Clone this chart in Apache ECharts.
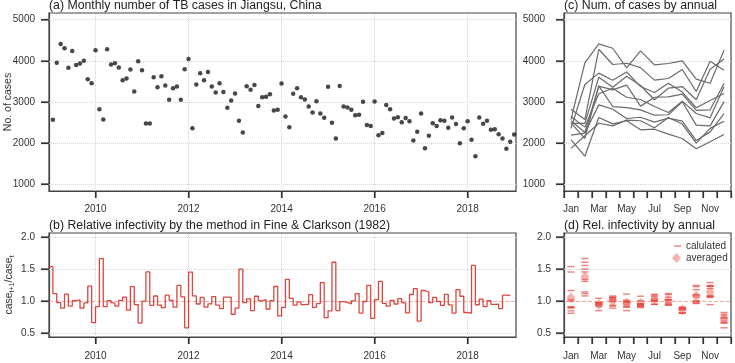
<!DOCTYPE html>
<html>
<head>
<meta charset="utf-8">
<script src="https://cdn.jsdelivr.net/npm/echarts@6/dist/echarts.min.js"></script>
<style>
  html, body { margin: 0; padding: 0; background: #fff; }
  #chart { width: 735px; height: 363px; }
</style>
</head>
<body>
<div id="chart"></div>
<script>
const startYear = 2009;
const months = ["Jan", "Feb", "Mar", "Apr", "May", "Jun", "Jul", "Aug", "Sep", "Oct", "Nov", "Dec"];

// monthly TB cases, Jan 2009 .. Dec 2018
const cases = [
  2570, 3950, 4410, 4305, 3830, 4240, 3900, 3935, 4000, 3555, 3455, 4255,
  2825, 2575, 4280, 3910, 3940, 3835, 3530, 3570, 3790, 3255, 3990, 3770,
  2480, 2480, 3600, 3360, 3625, 3400, 3055, 3335, 3375, 3055, 3795, 4045,
  2360, 3425, 3700, 3530, 3730, 3375, 3230, 3455, 3240, 2860, 3035, 3205,
  2545, 2260, 3385, 3295, 3410, 2900, 3115, 3125, 3190, 2795, 2810, 3450,
  2650, 2390, 3200, 3335, 3115, 3060, 2890, 2745, 3020, 2720, 2615, 3370,
  2495, 2115, 3390, 2890, 2865, 2810, 2680, 2690, 3005, 2440, 2420, 3010,
  2195, 2245, 2930, 2825, 2600, 2630, 2510, 2610, 2535, 2065, 2275, 2720,
  1875, 2180, 2485, 2420, 2560, 2545, 2375, 2625, 2465, 2000, 2360, 2535,
  2085, 1685, 2625, 2470, 2545, 2325, 2340, 2220, 2115, 1865, 2035, 2210,
];

// relative infectivity case[t+1] / case[t]
const ratio = [
  1.537, 1.116, 0.976, 0.889, 1.108, 0.920, 1.008, 1.017, 0.889, 0.973, 1.231, 0.664,
  0.912, 1.662, 0.913, 1.008, 0.973, 0.920, 1.012, 1.061, 0.859, 1.226, 0.945, 0.657,
  1.000, 1.453, 0.933, 1.079, 0.938, 0.898, 1.092, 1.012, 0.904, 1.243, 1.066, 0.583,
  1.452, 1.080, 0.954, 1.057, 0.905, 0.957, 1.070, 0.937, 0.883, 1.062, 1.056, 0.794,
  0.889, 1.497, 0.974, 1.034, 0.851, 1.075, 1.003, 1.021, 0.876, 1.006, 1.227, 0.768,
  0.902, 1.338, 1.043, 0.935, 0.982, 0.944, 0.950, 1.100, 0.901, 0.961, 1.287, 0.741,
  0.848, 1.604, 0.852, 0.992, 0.980, 0.954, 1.003, 1.117, 0.812, 0.993, 1.244, 0.729,
  1.022, 1.306, 0.964, 0.920, 1.012, 0.954, 1.039, 0.972, 0.815, 1.102, 1.195, 0.688,
  1.164, 1.141, 0.974, 1.057, 0.994, 0.933, 1.105, 0.939, 0.813, 1.178, 1.075, 0.822,
  0.810, 1.555, 0.942, 1.030, 0.914, 1.007, 0.948, 0.953, 0.882, 1.091, 1.087,
];

const averaged = [1.05, 1.38, 0.95, 1.00, 0.97, 0.96, 1.02, 1.01, 0.86, 1.08, 1.14, 0.72];

const yearTicks = [2010, 2012, 2014, 2016, 2018];
const caseTicks = [1000, 2000, 3000, 4000, 5000];
const ratioTicks = [0.5, 1.0, 1.5, 2.0];

const font = "'Liberation Sans', Arial, sans-serif";
const ink = "#333";
const red = "rgba(214, 39, 30, 0.85)";
const label = { color: ink, fontSize: 10, fontFamily: font };

// panel boxes: left, top, width, height
const boxes = [
  [49, 13, 467, 178],
  [49, 233, 467, 104],
  [564, 13, 167, 178],
  [564, 233, 167, 104],
];

const panelGrid = ([left, top, width, height]) => ({
  left, top, width, height, show: true, outerBoundsMode: "none", containLabel: false,
  borderColor: "#444", borderWidth: 1.2, backgroundColor: "transparent",
});

const axisLine = () => ({ show: true, onZero: false, lineStyle: { color: "#444", width: 1.2 } });
const axisTick = (length, customValues) => ({
  show: true, length, customValues, lineStyle: { color: ink, width: 1.2 },
});

const panelTitle = (text, left, top) => ({
  text, left, top, padding: 0,
  textStyle: { fontSize: 12.3, fontWeight: "normal", color: "#222", fontFamily: font },
});

const yearAxis = (gridIndex, margin) => ({
  type: "value", gridIndex, min: 2009, max: 2019.04,
  axisLine: axisLine(),
  axisTick: axisTick(7, yearTicks),
  axisLabel: { ...label, customValues: yearTicks, margin, formatter: (v) => String(v) },
  splitLine: { show: false },
});

const monthAxis = (gridIndex, margin) => ({
  type: "category", gridIndex, data: months, boundaryGap: true,
  axisLine: axisLine(),
  axisTick: { show: true, length: 7, interval: 0, lineStyle: { color: ink, width: 1.2 } },
  axisLabel: { ...label, interval: 1, margin },
  splitLine: { show: false },
});

const valueAxis = (gridIndex, min, max, tickValues, margin, digits, extra) => ({
  type: "value", gridIndex, min, max,
  axisLine: axisLine(),
  axisTick: axisTick(8, tickValues),
  axisLabel: { ...label, customValues: tickValues, margin, formatter: (v) => v.toFixed(digits) },
  splitLine: { show: false },
  nameMoveOverlap: false,
  ...extra,
});

// faint dotted grid lines at the tick positions, kept under the data
const gridLines = (xAxisIndex, yAxisIndex, xs, ys) => ({
  type: "line", xAxisIndex, yAxisIndex, data: [], z: 1, silent: true,
  markLine: {
    z: 1, silent: true, symbol: "none", label: { show: false },
    lineStyle: { type: "dotted", color: "#d6d6d6", width: 1 },
    data: [...xs.map((v) => ({ xAxis: v })), ...ys.map((v) => ({ yAxis: v }))],
  },
});

const oneLine = (xAxisIndex, yAxisIndex) => ({
  type: "line", xAxisIndex, yAxisIndex, data: [], z: 1, silent: true,
  markLine: {
    z: 1, silent: true, symbol: "none", label: { show: false },
    lineStyle: { type: "dashed", color: "rgba(240, 150, 140, 0.8)", width: 1 },
    data: [{ yAxis: 1 }],
  },
});

const chart = echarts.init(document.getElementById("chart"));

const yearLines = [];
for (let y = 0; y < cases.length / 12; y++) {
  yearLines.push({
    type: "line", xAxisIndex: 2, yAxisIndex: 2, z: 3,
    data: cases.slice(y * 12, y * 12 + 12),
    symbol: "none", silent: true,
    lineStyle: { color: "#6a6a6a", width: 1.2 },
  });
}

const stepData = ratio.map((v, i) => [startYear + i / 12, v]);
stepData.push([startYear + ratio.length / 12, ratio[ratio.length - 1]]);

chart.setOption({
  animation: false,
  textStyle: { fontFamily: font },
  title: [
    panelTitle("(a) Monthly number of TB cases in Jiangsu, China", 49, 0),
    panelTitle("(b) Relative infectivity by the method in Fine & Clarkson (1982)", 49, 220),
    panelTitle("(c) Num. of cases by annual", 564, 0),
    panelTitle("(d) Rel. infectivity by annual", 564, 220),
  ],
  legend: [
    {
      data: ["calulated"], left: 674, top: 241, padding: 0, icon: "rect",
      itemWidth: 7, itemHeight: 1.4, selectedMode: false,
      textStyle: { ...label },
    },
    {
      data: ["averaged"], left: 672, top: 253, padding: 0, icon: "diamond",
      itemWidth: 9, itemHeight: 10, selectedMode: false,
      textStyle: { ...label },
    },
  ],
  grid: boxes.map(panelGrid),
  xAxis: [
    yearAxis(0, 13),
    yearAxis(1, 14),
    monthAxis(2, 13),
    monthAxis(3, 14),
  ],
  yAxis: [
    valueAxis(0, 840, 5160, caseTicks, 14, 0, {
      name: "No. of cases", nameLocation: "middle", nameRotate: 90, nameGap: 35,
      nameTextStyle: { color: ink, fontSize: 10.5, fontFamily: font },
    }),
    valueAxis(1, 0.44, 2.06, ratioTicks, 14, 1, {
      name: "{n|case}{s|t+1}{n|/case}{s|t}", nameLocation: "middle", nameRotate: 90, nameGap: 33,
      nameTextStyle: {
        color: ink, fontFamily: font,
        rich: {
          n: { fontSize: 10.5, color: ink, lineHeight: 14, fontFamily: font },
          s: { fontSize: 7, color: ink, lineHeight: 14, verticalAlign: "bottom", fontFamily: font },
        },
      },
    }),
    valueAxis(2, 840, 5160, caseTicks, 19, 0),
    valueAxis(3, 0.44, 2.06, ratioTicks, 13, 1),
  ],
  series: [
    gridLines(0, 0, yearTicks, caseTicks),
    gridLines(1, 1, yearTicks, [0.5, 1.5, 2.0]),
    gridLines(2, 2, [], caseTicks),
    gridLines(3, 3, [], [0.5, 1.5, 2.0]),
    oneLine(1, 1),
    oneLine(3, 3),
    {
      type: "scatter", xAxisIndex: 0, yAxisIndex: 0, z: 3,
      data: cases.map((v, i) => [startYear + (i + 1) / 12, v]),
      symbolSize: 4.5, silent: true,
      itemStyle: { color: "#1a1a1a" },
    },
    {
      type: "line", xAxisIndex: 1, yAxisIndex: 1, step: "end", z: 3,
      data: stepData, showSymbol: false, silent: true,
      lineStyle: { color: red, width: 1.3 },
    },
    ...yearLines,
    {
      name: "calulated", type: "scatter", xAxisIndex: 3, yAxisIndex: 3, z: 3,
      data: ratio.map((v, i) => [i % 12, v]),
      symbol: "rect", symbolSize: [7, 1.4], silent: true,
      itemStyle: { color: "rgba(222, 45, 38, 0.75)" },
    },
    {
      name: "averaged", type: "scatter", xAxisIndex: 3, yAxisIndex: 3, z: 4,
      data: averaged.map((v, i) => [i, v]),
      symbol: "diamond", symbolSize: [9, 11], silent: true,
      itemStyle: { color: "rgba(240, 95, 85, 0.6)" },
    },
  ],
});

// outward tick marks as small filled bars, placed through the grids' own scales
const tickMarks = [];
const addBar = (x, y, w, h) => {
  if (![x, y, w, h].every(isFinite)) return;
  tickMarks.push({
    type: "rect", silent: true, z: 100,
    shape: { x, y, width: w, height: h },
    style: { fill: ink },
  });
};
const panels = [
  { xs: yearTicks, ys: caseTicks, anyX: 2010, anyY: 1000 },
  { xs: yearTicks, ys: ratioTicks, anyX: 2010, anyY: 1 },
  { xs: null, ys: caseTicks, anyX: 0, anyY: 1000 },
  { xs: null, ys: ratioTicks, anyX: 0, anyY: 1 },
];
panels.forEach(({ xs, ys, anyX, anyY }, idx) => {
  const [left, top, , height] = boxes[idx];
  const bottom = top + height;
  const toPx = (pt) => chart.convertToPixel({ gridIndex: idx }, pt) || [NaN, NaN];
  let xPix;
  if (xs) {
    xPix = xs.map((v) => toPx([v, anyY])[0]);
  } else {
    const c0 = toPx([0, anyY])[0];
    const band = toPx([1, anyY])[0] - c0;
    xPix = months.concat([""]).map((m, i) => c0 - band / 2 + i * band);
  }
  xPix.forEach((x) => addBar(Math.round(x) - 0.6, bottom, 1.2, 7));
  ys.forEach((v) => {
    const y = toPx([anyX, v])[1];
    addBar(left - 8, Math.round(y) - 0.6, 8, 1.2);
  });
});
chart.setOption({ graphic: { elements: tickMarks } });
</script>
</body>
</html>
